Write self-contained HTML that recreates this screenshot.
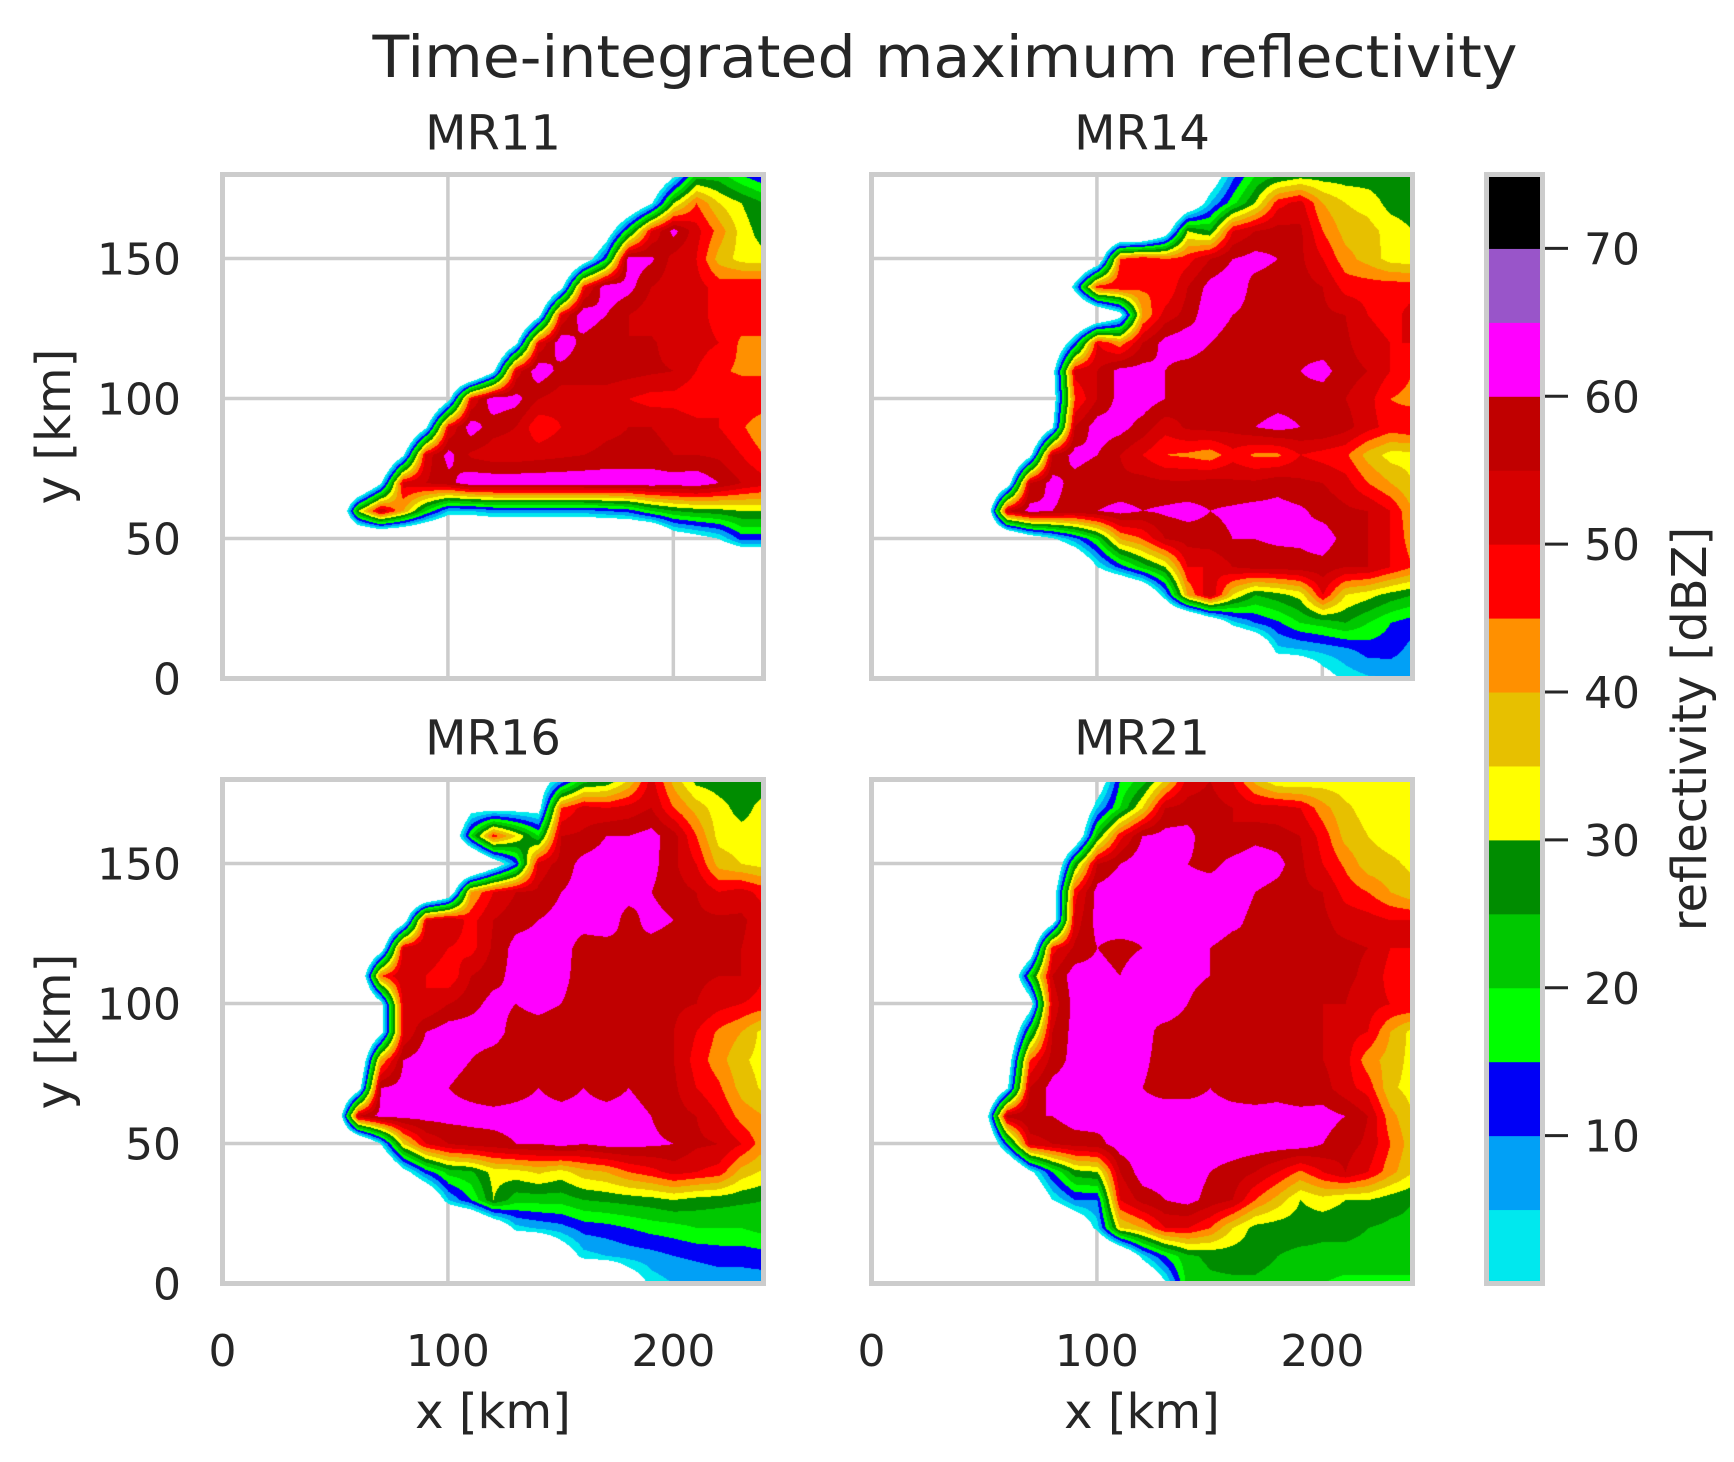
<!DOCTYPE html>
<html><head><meta charset="utf-8">
<style>
html,body{margin:0;padding:0;background:#fff;}
#wrap{position:relative;width:1734px;height:1462px;overflow:hidden;background:#fff;font-family:"DejaVu Sans","Liberation Sans",sans-serif;}
svg{position:absolute;left:0;top:0;}
canvas{position:absolute;}
</style></head>
<body>
<div id="wrap">
<svg id="under" width="1734" height="1462"></svg>
<svg id="over" width="1734" height="1462"></svg>
</div>
<script>
// ---- data (dBZ on 10 km grid: rows y=180..0, cols x=0..240) ----
const panelNames = ["MR11","MR14","MR16","MR21"];
const xTicks = [0,100,200];
const yTicks = [0,50,100,150];
const cbarTicks = [10,20,30,40,50,60,70];
const levels = [0,5,10,15,20,25,30,35,40,45,50,55,60,65,70,75];
const levelColors = ["#00e8ee","#01a0f6","#0000f6","#00ff00","#00c800","#008c00","#ffff00","#e7c000","#ff9000","#ff0000","#d60000","#c00000","#ff00ff","#9955c9","#000000"];

const mr11 = [
[-30,-30,-30,-30,-30,-30,-30,-30,-30,-30,-30,-30,-30,-30,-30,-30,-30,-30,-30,-20,-3,22,22,15,10],
[-30,-30,-30,-30,-30,-30,-30,-30,-30,-30,-30,-30,-30,-30,-30,-30,-30,-30,-20,-2,30,45,35,30,25],
[-30,-30,-30,-30,-30,-30,-30,-30,-30,-30,-30,-30,-30,-30,-30,-30,-30,-10,20,50,62,52,43,33,27],
[-30,-30,-30,-30,-30,-30,-30,-30,-30,-30,-30,-30,-30,-30,-30,-30,-10,15,63,61,53,50,38,33,32],
[-30,-30,-30,-30,-30,-30,-30,-30,-30,-30,-30,-30,-30,-30,-30,-5,48,64,62,55,52,52,48,50,50],
[-30,-30,-30,-30,-30,-30,-30,-30,-30,-30,-30,-30,-30,-30,-5,50,64,60,55,52,50,52,48,48,48],
[-30,-30,-30,-30,-30,-30,-30,-30,-30,-30,-30,-30,-30,-3,50,64,58,55,55,56,52,52,50,44,44],
[-30,-30,-30,-30,-30,-30,-30,-30,-30,-30,-30,-30,-3,52,64,58,57,58,57,56,55,50,46,44,44],
[-30,-30,-30,-30,-30,-30,-30,-30,-30,-30,-5,50,64,62,55,52,53,52,50,48,48,46,50,50,50],
[-30,-30,-30,-30,-30,-30,-30,-30,-30,-3,50,63,57,55,46,50,52,54,55,55,54,52,50,46,40],
[-30,-30,-30,-30,-30,-30,-30,-30,-2,52,62,54,52,52,53,54,55,56,56,56,55,55,54,50,45],
[-30,-30,-30,-30,-30,-30,-30,-2,52,55,58,64,64,64,64,64,64,64,64,64,63,64,60,55,52],
[-30,-30,-30,-30,-30,-30,30,55,40,20,5,5,8,8,8,8,8,10,12,20,25,27,28,30,30],
[-30,-30,-30,-30,-30,-30,-30,-30,-30,-30,-30,-30,-30,-30,-30,-30,-30,-30,-30,-30,-10,-5,0,12,12],
[-30,-30,-30,-30,-30,-30,-30,-30,-30,-30,-30,-30,-30,-30,-30,-30,-30,-30,-30,-30,-30,-30,-30,-30,-30],
[-30,-30,-30,-30,-30,-30,-30,-30,-30,-30,-30,-30,-30,-30,-30,-30,-30,-30,-30,-30,-30,-30,-30,-30,-30],
[-30,-30,-30,-30,-30,-30,-30,-30,-30,-30,-30,-30,-30,-30,-30,-30,-30,-30,-30,-30,-30,-30,-30,-30,-30],
[-30,-30,-30,-30,-30,-30,-30,-30,-30,-30,-30,-30,-30,-30,-30,-30,-30,-30,-30,-30,-30,-30,-30,-30,-30],
[-30,-30,-30,-30,-30,-30,-30,-30,-30,-30,-30,-30,-30,-30,-30,-30,-30,-30,-30,-30,-30,-30,-30,-30,-30]
];
const mr14 = [
[-30,-30,-30,-30,-30,-30,-30,-30,-30,-30,-30,-30,-30,-30,-30,-10,8,20,24,27,27,27,27,27,27],
[-30,-30,-30,-30,-30,-30,-30,-30,-30,-30,-30,-30,-30,-30,-15,5,18,30,48,52,40,35,33,28,27],
[-30,-30,-30,-30,-30,-30,-30,-30,-30,-30,-30,-30,-30,-10,30,25,50,55,57,56,45,38,37,33,30],
[-30,-30,-30,-30,-30,-30,-30,-30,-30,-30,-15,45,50,45,48,55,60,62,60,56,50,42,38,33,32],
[-30,-30,-30,-30,-30,-30,-30,-30,-30,5,48,50,46,45,55,62,64,58,57,57,55,48,48,48,48],
[-30,-30,-30,-30,-30,-30,-30,-30,-30,-30,-20,-5,40,52,57,64,60,58,57,58,56,55,50,48,52],
[-30,-30,-30,-30,-30,-30,-30,-30,-20,10,50,42,55,62,64,60,57,58,58,58,57,56,52,50,50],
[-30,-30,-30,-30,-30,-30,-30,-30,-5,52,55,62,62,60,57,56,58,60,58,60,62,57,55,50,45],
[-30,-30,-30,-30,-30,-30,-30,-30,-8,45,55,62,63,60,56,57,56,57,58,58,57,55,52,45,43],
[-30,-30,-30,-30,-30,-30,-30,-30,-2,55,63,62,58,52,56,57,57,60,62,60,60,57,52,48,50],
[-30,-30,-30,-30,-30,-30,-30,-5,55,62,60,55,50,45,44,42,48,44,44,50,48,46,38,33,33],
[-30,-30,-30,-30,-30,-30,-10,55,62,58,56,56,57,56,56,57,56,56,58,56,55,52,45,40,35],
[-30,-30,-30,-30,-30,-20,55,62,60,58,60,62,60,61,62,60,61,62,62,61,58,56,55,50,40],
[-30,-30,-30,-30,-30,-30,-25,-10,-2,8,20,40,45,55,57,58,60,60,61,61,63,58,55,50,42],
[-30,-30,-30,-30,-30,-30,-30,-30,-30,-20,0,12,22,30,50,50,55,57,57,58,58,55,55,50,45],
[-30,-30,-30,-30,-30,-30,-30,-30,-30,-30,-30,-30,-20,5,40,55,35,25,28,32,50,35,32,28,25],
[-30,-30,-30,-30,-30,-30,-30,-30,-30,-30,-30,-30,-30,-30,-30,-15,3,10,14,20,22,25,20,15,12],
[-30,-30,-30,-30,-30,-30,-30,-30,-30,-30,-30,-30,-30,-30,-30,-30,-30,-20,3,4,6,8,12,12,8],
[-30,-30,-30,-30,-30,-30,-30,-30,-30,-30,-30,-30,-30,-30,-30,-30,-30,-30,-30,-20,-5,2,4,5,6]
];
const mr16 = [
[-30,-30,-30,-30,-30,-30,-30,-30,-30,-30,-30,-30,-30,-30,-10,5,22,25,35,52,38,28,27,27,27],
[-30,-30,-30,-30,-30,-30,-30,-30,-30,-30,-30,-5,-5,-5,-5,45,52,50,52,55,45,38,32,28,32],
[-30,-30,-30,-30,-30,-30,-30,-30,-30,-30,-20,20,48,35,20,55,56,60,60,62,57,45,33,32,32],
[-30,-30,-30,-30,-30,-30,-30,-30,-30,-30,-30,-30,-10,10,52,57,62,63,62,62,56,50,38,35,33],
[-30,-30,-30,-30,-30,-30,-30,-30,-30,-30,-15,40,50,55,56,60,62,62,62,60,57,55,50,52,48],
[-30,-30,-30,-30,-30,-30,-30,-30,-10,50,55,48,55,58,60,62,62,63,58,62,60,56,56,56,52],
[-30,-30,-30,-30,-30,-30,-30,-10,52,55,50,48,56,62,62,62,58,58,60,58,57,56,57,55,52],
[-30,-30,-30,-30,-30,-30,-20,45,55,50,46,55,58,62,63,62,57,60,60,58,57,56,55,55,50],
[-30,-30,-30,-30,-30,-30,-30,-5,52,50,55,58,62,60,62,60,57,58,58,56,56,55,52,50,48],
[-30,-30,-30,-30,-30,-30,-30,-5,50,60,63,63,63,57,57,56,56,58,58,60,55,50,44,40,33],
[-30,-30,-30,-30,-30,-30,-20,40,60,63,62,60,57,56,56,57,58,58,60,58,55,48,42,36,33],
[-30,-30,-30,-30,-30,-30,-8,60,62,63,60,58,56,58,60,58,60,58,60,58,56,50,46,38,34],
[-30,-30,-30,-30,-30,-20,55,62,62,62,62,62,62,62,62,62,62,62,62,60,57,55,50,43,40],
[-30,-30,-30,-30,-30,-30,-25,0,35,50,55,57,58,60,60,62,60,62,62,61,60,56,55,50,42],
[-30,-30,-30,-30,-30,-30,-30,-30,-5,12,22,24,32,33,36,33,38,40,45,48,52,50,48,38,34],
[-30,-30,-30,-30,-30,-30,-30,-30,-30,-20,5,15,30,22,22,22,25,26,27,28,30,28,27,26,25],
[-30,-30,-30,-30,-30,-30,-30,-30,-30,-30,-30,-30,-15,3,6,8,12,13,15,17,18,20,20,20,22],
[-30,-30,-30,-30,-30,-30,-30,-30,-30,-30,-30,-30,-30,-30,-30,-10,3,5,7,8,10,11,12,12,13],
[-30,-30,-30,-30,-30,-30,-30,-30,-30,-30,-30,-30,-30,-30,-30,-30,-30,-30,-10,2,5,6,7,7,7]
];
const mr21 = [
[-30,-30,-30,-30,-30,-30,-30,-30,-30,-30,-10,15,22,35,52,55,50,38,30,30,32,32,32,32,32],
[-30,-30,-30,-30,-30,-30,-30,-30,-30,-20,5,20,35,55,57,57,55,52,52,50,42,36,33,33,32],
[-30,-30,-30,-30,-30,-30,-30,-30,-30,-15,25,48,60,62,62,56,55,58,57,55,48,38,35,33,33],
[-30,-30,-30,-30,-30,-30,-30,-30,-20,25,55,60,64,64,60,58,62,64,62,56,50,44,37,36,34],
[-30,-30,-30,-30,-30,-30,-30,-30,-10,48,62,64,63,63,63,64,64,60,58,56,55,48,45,40,36],
[-30,-30,-30,-30,-30,-30,-30,-30,-10,52,62,64,62,62,60,65,62,58,56,57,56,53,52,50,50],
[-30,-30,-30,-30,-30,-30,-30,-15,48,56,60,58,60,62,64,60,57,60,58,57,56,56,55,50,50],
[-30,-30,-30,-30,-30,-30,-20,20,55,63,62,60,64,62,62,60,56,60,58,57,56,56,54,48,50],
[-30,-30,-30,-30,-30,-30,-30,-8,52,62,63,62,60,64,60,56,57,60,58,57,55,55,52,50,50],
[-30,-30,-30,-30,-30,-30,-20,20,55,62,63,62,62,58,57,58,56,58,58,58,55,52,50,40,33],
[-30,-30,-30,-30,-30,-30,-10,45,57,62,62,62,61,58,57,57,57,57,58,58,55,52,42,38,33],
[-30,-30,-30,-30,-30,-30,-2,55,62,63,62,60,60,58,58,60,58,57,58,56,57,52,48,36,33],
[-30,-30,-30,-30,-30,-10,57,60,60,63,63,62,62,63,63,62,62,62,62,62,62,60,55,42,35],
[-30,-30,-30,-30,-30,-25,15,52,55,57,58,63,63,63,63,63,63,63,63,63,60,57,54,45,37],
[-30,-30,-30,-30,-30,-30,-30,-3,15,28,30,55,63,63,63,60,58,55,50,44,50,55,50,42,35],
[-30,-30,-30,-30,-30,-30,-30,-20,0,10,10,50,57,60,62,58,55,45,38,30,33,30,30,27,25],
[-30,-30,-30,-30,-30,-30,-30,-30,-30,-15,3,35,40,50,50,45,35,28,27,27,26,26,25,24,24],
[-30,-30,-30,-30,-30,-30,-30,-30,-30,-30,-30,-20,3,15,24,26,27,27,25,24,24,24,24,24,24],
[-30,-30,-30,-30,-30,-30,-30,-30,-30,-30,-30,-30,-20,-2,22,24,24,24,23,22,20,18,18,18,18]
];
const panelData = [mr11, mr14, mr16, mr21];

// ---- layout ----
const NS = "http://www.w3.org/2000/svg";
const colX = [222.5, 871.5], rowY = [174.5, 779.5];
const PW = 541, PH = 504;
const XMAX = 240, YMAX = 180;
function sx(col, v){ return colX[col] + v / XMAX * PW; }
function sy(row, v){ return rowY[row] + PH - v / YMAX * PH; }
const CB = {x0:1486.5, x1:1542.5, y0:174.5, y1:1283.5, vmin:0, vmax:75};
function cy(v){ return CB.y1 - (v - CB.vmin) / (CB.vmax - CB.vmin) * (CB.y1 - CB.y0); }

const under = document.getElementById('under');
const over = document.getElementById('over');
const wrap = document.getElementById('wrap');
function mk(parent, tag, attrs, text){
  const e = document.createElementNS(NS, tag);
  for (const k in attrs) e.setAttribute(k, attrs[k]);
  if (text !== undefined) e.textContent = text;
  parent.appendChild(e);
  return e;
}
function colorIndex(v){
  if (v < levels[0]) return -1;
  let i = Math.floor((v - levels[0]) / 5);
  if (i > levelColors.length - 1) i = levelColors.length - 1;
  return i;
}
function hexRGB(h){ return [parseInt(h.substr(1,2),16),parseInt(h.substr(3,2),16),parseInt(h.substr(5,2),16)]; }
const rgb = levelColors.map(hexRGB);

const title = mk(over,'text',{x:945,y:77,'text-anchor':'middle','font-size':58,fill:'#262626',textLength:1145,lengthAdjust:'spacingAndGlyphs'},'Time-integrated maximum reflectivity');



for (let p = 0; p < 4; p++) {
  const col = p % 2, row = Math.floor(p / 2);
  const g = mk(under,'g',{});
  
  
  xTicks.forEach(t => { if (t > 0) {
    const l = mk(g,'line',{x1:sx(col,t),x2:sx(col,t),y1:rowY[row],y2:rowY[row]+PH,stroke:'#cccccc','stroke-width':3.5});
    
    
  }});
  yTicks.forEach(t => { if (t > 0) {
    const l = mk(g,'line',{x1:colX[col],x2:colX[col]+PW,y1:sy(row,t),y2:sy(row,t),stroke:'#cccccc','stroke-width':3.5});
    
    
  }});

  const cv = document.createElement('canvas');
  
  
  const L = Math.round(colX[col]), T = Math.round(rowY[row]);
  cv.width = PW; cv.height = PH;
  cv.style.left = L + 'px'; cv.style.top = T + 'px';
  wrap.insertBefore(cv, over);
  const ctx = cv.getContext('2d');
  const img = ctx.createImageData(PW, PH);
  const D = panelData[p];
  const nr = D.length, nc = D[0].length;
  for (let py = 0; py < PH; py++) {
    const ykm = YMAX - (py + 0.5) / PH * YMAX;
    let gy = (YMAX - ykm) / 10; let r0 = Math.floor(gy); if (r0 > nr - 2) r0 = nr - 2; const fy = gy - r0;
    for (let px = 0; px < PW; px++) {
      const xkm = (px + 0.5) / PW * XMAX;
      let gx = xkm / 10; let c0 = Math.floor(gx); if (c0 > nc - 2) c0 = nc - 2; const fx = gx - c0;
      const v = (D[r0][c0]*(1-fx) + D[r0][c0+1]*fx)*(1-fy) + (D[r0+1][c0]*(1-fx) + D[r0+1][c0+1]*fx)*fy;
      const ci = colorIndex(v);
      if (ci < 0) continue;
      const k = (py*PW + px)*4;
      img.data[k] = rgb[ci][0]; img.data[k+1] = rgb[ci][1]; img.data[k+2] = rgb[ci][2]; img.data[k+3] = 255;
    }
  }
  ctx.putImageData(img, 0, 0);

  const sp = mk(over,'rect',{x:colX[col],y:rowY[row],width:PW,height:PH,fill:'none',stroke:'#cccccc','stroke-width':5});
  
  

  const st = mk(over,'text',{x:colX[col]+PW/2,y:rowY[row]-25,'text-anchor':'middle','font-size':48,fill:'#262626'},panelNames[p]);
  
  

  if (col === 0) {
    yTicks.forEach(t => {
      const tl = mk(over,'text',{x:181,y:sy(row,t)+16,'text-anchor':'end','font-size':44,fill:'#262626'},String(t));
      
      
    });
    const cyl = rowY[row] + PH/2;
    const yl = mk(over,'text',{x:0,y:0,transform:'translate(70,'+cyl+') rotate(-90)','text-anchor':'middle','font-size':48,fill:'#262626'},'y [km]');
    
    
  }
  if (row === 1) {
    xTicks.forEach(t => {
      const tl = mk(over,'text',{x:sx(col,t),y:1366,'text-anchor':'middle','font-size':44,fill:'#262626'},String(t));
      
      
    });
    const xl = mk(over,'text',{x:colX[col]+PW/2,y:1428,'text-anchor':'middle','font-size':48,fill:'#262626'},'x [km]');
    
    
  }
}

const cbg = mk(over,'g',{});


for (let i = 0; i < levelColors.length; i++) {
  const r = mk(cbg,'rect',{x:CB.x0,y:cy(levels[i+1]),width:CB.x1-CB.x0,height:cy(levels[i])-cy(levels[i+1])+0.5,fill:levelColors[i]});
  
  
}
const cbf = mk(cbg,'rect',{x:CB.x0,y:CB.y0,width:CB.x1-CB.x0,height:CB.y1-CB.y0,fill:'none',stroke:'#cccccc','stroke-width':5});


cbarTicks.forEach(t => {
  const tk = mk(cbg,'line',{x1:1545,x2:1568,y1:cy(t),y2:cy(t),stroke:'#262626','stroke-width':3});
  
  
  const tl = mk(cbg,'text',{x:1584,y:cy(t)+16,'font-size':44,fill:'#262626'},String(t));
  
  
});
const cbl = mk(over,'text',{x:0,y:0,transform:'translate(1706,729) rotate(-90)','text-anchor':'middle','font-size':48,fill:'#262626'},'reflectivity [dBZ]');


</script>
</body></html>
